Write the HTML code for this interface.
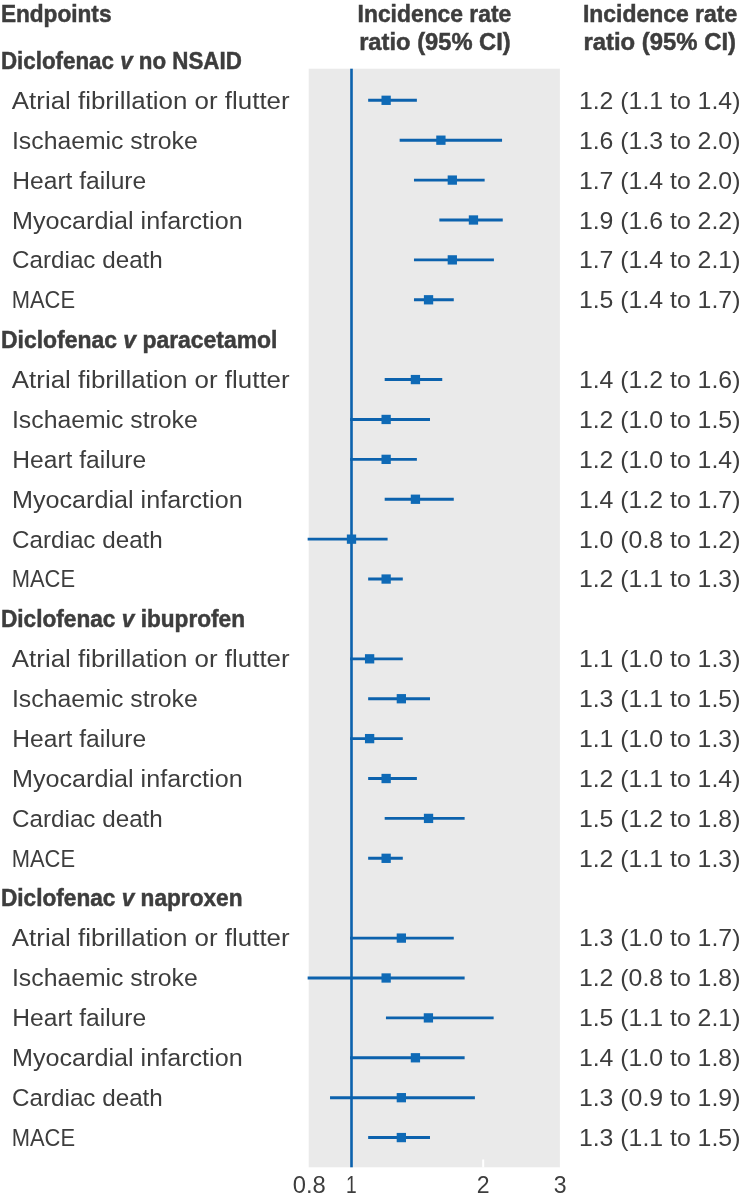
<!DOCTYPE html><html><head><meta charset="utf-8"><style>html,body{margin:0;padding:0;background:#fff;width:742px;height:1200px;overflow:hidden}svg{display:block;will-change:transform}text{font-family:"Liberation Sans",sans-serif;fill:#3d3d3d}</style></head><body>
<svg width="742" height="1200" viewBox="0 0 742 1200">
<rect x="308.7" y="68.7" width="251.2" height="1098.6" fill="#eaeaea"/>
<rect x="482.2" y="1159.5" width="2" height="8" fill="#fff"/>
<rect x="350.2" y="68.7" width="2.6" height="1098.6" fill="#0c62ad"/>
<line x1="369.61" y1="100.30" x2="415.43" y2="100.30" stroke="#0c62ad" stroke-width="2.9" stroke-linecap="square"/>
<rect x="381.49" y="95.65" width="9.3" height="9.3" fill="#0f6ab6"/>
<line x1="401.10" y1="140.19" x2="500.60" y2="140.19" stroke="#0c62ad" stroke-width="2.9" stroke-linecap="square"/>
<rect x="436.25" y="135.54" width="9.3" height="9.3" fill="#0f6ab6"/>
<line x1="415.43" y1="180.09" x2="483.20" y2="180.09" stroke="#0c62ad" stroke-width="2.9" stroke-linecap="square"/>
<rect x="447.67" y="175.44" width="9.3" height="9.3" fill="#0f6ab6"/>
<line x1="440.80" y1="219.99" x2="501.31" y2="219.99" stroke="#0c62ad" stroke-width="2.9" stroke-linecap="square"/>
<rect x="468.80" y="215.34" width="9.3" height="9.3" fill="#0f6ab6"/>
<line x1="415.43" y1="259.88" x2="492.47" y2="259.88" stroke="#0c62ad" stroke-width="2.9" stroke-linecap="square"/>
<rect x="447.67" y="255.23" width="9.3" height="9.3" fill="#0f6ab6"/>
<line x1="415.43" y1="299.78" x2="452.32" y2="299.78" stroke="#0c62ad" stroke-width="2.9" stroke-linecap="square"/>
<rect x="423.89" y="295.13" width="9.3" height="9.3" fill="#0f6ab6"/>
<line x1="386.14" y1="379.57" x2="440.80" y2="379.57" stroke="#0c62ad" stroke-width="2.9" stroke-linecap="square"/>
<rect x="410.78" y="374.92" width="9.3" height="9.3" fill="#0f6ab6"/>
<line x1="351.50" y1="419.46" x2="428.54" y2="419.46" stroke="#0c62ad" stroke-width="2.9" stroke-linecap="square"/>
<rect x="381.49" y="414.81" width="9.3" height="9.3" fill="#0f6ab6"/>
<line x1="351.50" y1="459.36" x2="415.43" y2="459.36" stroke="#0c62ad" stroke-width="2.9" stroke-linecap="square"/>
<rect x="381.49" y="454.71" width="9.3" height="9.3" fill="#0f6ab6"/>
<line x1="386.14" y1="499.25" x2="452.32" y2="499.25" stroke="#0c62ad" stroke-width="2.9" stroke-linecap="square"/>
<rect x="410.78" y="494.60" width="9.3" height="9.3" fill="#0f6ab6"/>
<line x1="309.10" y1="539.14" x2="386.14" y2="539.14" stroke="#0c62ad" stroke-width="2.9" stroke-linecap="square"/>
<rect x="346.85" y="534.50" width="9.3" height="9.3" fill="#0f6ab6"/>
<line x1="369.61" y1="579.04" x2="401.35" y2="579.04" stroke="#0c62ad" stroke-width="2.9" stroke-linecap="square"/>
<rect x="381.49" y="574.39" width="9.3" height="9.3" fill="#0f6ab6"/>
<line x1="351.50" y1="658.83" x2="401.35" y2="658.83" stroke="#0c62ad" stroke-width="2.9" stroke-linecap="square"/>
<rect x="364.96" y="654.18" width="9.3" height="9.3" fill="#0f6ab6"/>
<line x1="369.61" y1="698.73" x2="428.54" y2="698.73" stroke="#0c62ad" stroke-width="2.9" stroke-linecap="square"/>
<rect x="396.70" y="694.08" width="9.3" height="9.3" fill="#0f6ab6"/>
<line x1="351.50" y1="738.62" x2="401.35" y2="738.62" stroke="#0c62ad" stroke-width="2.9" stroke-linecap="square"/>
<rect x="364.96" y="733.97" width="9.3" height="9.3" fill="#0f6ab6"/>
<line x1="369.61" y1="778.51" x2="415.43" y2="778.51" stroke="#0c62ad" stroke-width="2.9" stroke-linecap="square"/>
<rect x="381.49" y="773.87" width="9.3" height="9.3" fill="#0f6ab6"/>
<line x1="386.14" y1="818.41" x2="463.18" y2="818.41" stroke="#0c62ad" stroke-width="2.9" stroke-linecap="square"/>
<rect x="423.89" y="813.76" width="9.3" height="9.3" fill="#0f6ab6"/>
<line x1="369.61" y1="858.31" x2="401.35" y2="858.31" stroke="#0c62ad" stroke-width="2.9" stroke-linecap="square"/>
<rect x="381.49" y="853.66" width="9.3" height="9.3" fill="#0f6ab6"/>
<line x1="351.50" y1="938.10" x2="452.32" y2="938.10" stroke="#0c62ad" stroke-width="2.9" stroke-linecap="square"/>
<rect x="396.70" y="933.45" width="9.3" height="9.3" fill="#0f6ab6"/>
<line x1="309.10" y1="977.99" x2="463.18" y2="977.99" stroke="#0c62ad" stroke-width="2.9" stroke-linecap="square"/>
<rect x="381.49" y="973.34" width="9.3" height="9.3" fill="#0f6ab6"/>
<line x1="387.40" y1="1017.88" x2="492.20" y2="1017.88" stroke="#0c62ad" stroke-width="2.9" stroke-linecap="square"/>
<rect x="423.75" y="1013.24" width="9.3" height="9.3" fill="#0f6ab6"/>
<line x1="351.50" y1="1057.78" x2="463.18" y2="1057.78" stroke="#0c62ad" stroke-width="2.9" stroke-linecap="square"/>
<rect x="410.78" y="1053.13" width="9.3" height="9.3" fill="#0f6ab6"/>
<line x1="331.48" y1="1097.68" x2="473.45" y2="1097.68" stroke="#0c62ad" stroke-width="2.9" stroke-linecap="square"/>
<rect x="396.70" y="1093.03" width="9.3" height="9.3" fill="#0f6ab6"/>
<line x1="369.61" y1="1137.57" x2="428.54" y2="1137.57" stroke="#0c62ad" stroke-width="2.9" stroke-linecap="square"/>
<rect x="396.70" y="1132.92" width="9.3" height="9.3" fill="#0f6ab6"/>
<text transform="translate(0.88 21.60) scale(0.9237 1)" font-size="24.5" font-weight="bold" stroke="#3d3d3d" stroke-width="0.5">Endpoints</text>
<text transform="translate(357.57 21.60) scale(0.9335 1)" font-size="24.5" font-weight="bold" stroke="#3d3d3d" stroke-width="0.5">Incidence rate</text>
<text transform="translate(359.13 50.10) scale(0.9690 1)" font-size="24.5" font-weight="bold" stroke="#3d3d3d" stroke-width="0.5">ratio (95% CI)</text>
<text transform="translate(582.96 21.60) scale(0.9366 1)" font-size="24.5" font-weight="bold" stroke="#3d3d3d" stroke-width="0.5">Incidence rate</text>
<text transform="translate(583.43 50.10) scale(0.9748 1)" font-size="24.5" font-weight="bold" stroke="#3d3d3d" stroke-width="0.5">ratio (95% CI)</text>
<text transform="translate(0.99 69.13) scale(0.9122 1)" font-size="24.5" font-weight="bold" stroke="#3d3d3d" stroke-width="0.5">Diclofenac <tspan font-style="italic">v</tspan> no NSAID</text>
<text transform="translate(11.80 109.00) scale(1.0578 1)" font-size="24.5">Atrial fibrillation or flutter</text>
<text transform="translate(578.89 109.00) scale(1.0146 1)" font-size="24.5">1.2 (1.1 to 1.4)</text>
<text transform="translate(11.99 148.87) scale(1.0110 1)" font-size="24.5">Ischaemic stroke</text>
<text transform="translate(578.89 148.87) scale(1.0146 1)" font-size="24.5">1.6 (1.3 to 2.0)</text>
<text transform="translate(12.30 188.74) scale(1.0038 1)" font-size="24.5">Heart failure</text>
<text transform="translate(578.89 188.74) scale(1.0146 1)" font-size="24.5">1.7 (1.4 to 2.0)</text>
<text transform="translate(11.97 228.61) scale(1.0269 1)" font-size="24.5">Myocardial infarction</text>
<text transform="translate(578.89 228.61) scale(1.0146 1)" font-size="24.5">1.9 (1.6 to 2.2)</text>
<text transform="translate(12.01 268.48) scale(0.9887 1)" font-size="24.5">Cardiac death</text>
<text transform="translate(578.89 268.48) scale(1.0146 1)" font-size="24.5">1.7 (1.4 to 2.1)</text>
<text transform="translate(11.70 308.35) scale(0.8957 1)" font-size="24.5">MACE</text>
<text transform="translate(578.89 308.35) scale(1.0146 1)" font-size="24.5">1.5 (1.4 to 1.7)</text>
<text transform="translate(0.96 348.22) scale(0.9361 1)" font-size="24.5" font-weight="bold" stroke="#3d3d3d" stroke-width="0.5">Diclofenac <tspan font-style="italic">v</tspan> paracetamol</text>
<text transform="translate(11.80 388.09) scale(1.0578 1)" font-size="24.5">Atrial fibrillation or flutter</text>
<text transform="translate(578.89 388.09) scale(1.0146 1)" font-size="24.5">1.4 (1.2 to 1.6)</text>
<text transform="translate(11.99 427.96) scale(1.0110 1)" font-size="24.5">Ischaemic stroke</text>
<text transform="translate(578.89 427.96) scale(1.0146 1)" font-size="24.5">1.2 (1.0 to 1.5)</text>
<text transform="translate(12.30 467.83) scale(1.0038 1)" font-size="24.5">Heart failure</text>
<text transform="translate(578.89 467.83) scale(1.0146 1)" font-size="24.5">1.2 (1.0 to 1.4)</text>
<text transform="translate(11.97 507.70) scale(1.0269 1)" font-size="24.5">Myocardial infarction</text>
<text transform="translate(578.89 507.70) scale(1.0146 1)" font-size="24.5">1.4 (1.2 to 1.7)</text>
<text transform="translate(12.01 547.57) scale(0.9887 1)" font-size="24.5">Cardiac death</text>
<text transform="translate(578.89 547.57) scale(1.0146 1)" font-size="24.5">1.0 (0.8 to 1.2)</text>
<text transform="translate(11.70 587.44) scale(0.8957 1)" font-size="24.5">MACE</text>
<text transform="translate(578.89 587.44) scale(1.0146 1)" font-size="24.5">1.2 (1.1 to 1.3)</text>
<text transform="translate(0.98 627.31) scale(0.9247 1)" font-size="24.5" font-weight="bold" stroke="#3d3d3d" stroke-width="0.5">Diclofenac <tspan font-style="italic">v</tspan> ibuprofen</text>
<text transform="translate(11.80 667.18) scale(1.0578 1)" font-size="24.5">Atrial fibrillation or flutter</text>
<text transform="translate(578.89 667.18) scale(1.0146 1)" font-size="24.5">1.1 (1.0 to 1.3)</text>
<text transform="translate(11.99 707.05) scale(1.0110 1)" font-size="24.5">Ischaemic stroke</text>
<text transform="translate(578.89 707.05) scale(1.0146 1)" font-size="24.5">1.3 (1.1 to 1.5)</text>
<text transform="translate(12.30 746.92) scale(1.0038 1)" font-size="24.5">Heart failure</text>
<text transform="translate(578.89 746.92) scale(1.0146 1)" font-size="24.5">1.1 (1.0 to 1.3)</text>
<text transform="translate(11.97 786.79) scale(1.0269 1)" font-size="24.5">Myocardial infarction</text>
<text transform="translate(578.89 786.79) scale(1.0146 1)" font-size="24.5">1.2 (1.1 to 1.4)</text>
<text transform="translate(12.01 826.66) scale(0.9887 1)" font-size="24.5">Cardiac death</text>
<text transform="translate(578.89 826.66) scale(1.0146 1)" font-size="24.5">1.5 (1.2 to 1.8)</text>
<text transform="translate(11.70 866.53) scale(0.8957 1)" font-size="24.5">MACE</text>
<text transform="translate(578.89 866.53) scale(1.0146 1)" font-size="24.5">1.2 (1.1 to 1.3)</text>
<text transform="translate(0.98 906.40) scale(0.9242 1)" font-size="24.5" font-weight="bold" stroke="#3d3d3d" stroke-width="0.5">Diclofenac <tspan font-style="italic">v</tspan> naproxen</text>
<text transform="translate(11.80 946.27) scale(1.0578 1)" font-size="24.5">Atrial fibrillation or flutter</text>
<text transform="translate(578.89 946.27) scale(1.0146 1)" font-size="24.5">1.3 (1.0 to 1.7)</text>
<text transform="translate(11.99 986.14) scale(1.0110 1)" font-size="24.5">Ischaemic stroke</text>
<text transform="translate(578.89 986.14) scale(1.0146 1)" font-size="24.5">1.2 (0.8 to 1.8)</text>
<text transform="translate(12.30 1026.01) scale(1.0038 1)" font-size="24.5">Heart failure</text>
<text transform="translate(578.89 1026.01) scale(1.0146 1)" font-size="24.5">1.5 (1.1 to 2.1)</text>
<text transform="translate(11.97 1065.88) scale(1.0269 1)" font-size="24.5">Myocardial infarction</text>
<text transform="translate(578.89 1065.88) scale(1.0146 1)" font-size="24.5">1.4 (1.0 to 1.8)</text>
<text transform="translate(12.01 1105.75) scale(0.9887 1)" font-size="24.5">Cardiac death</text>
<text transform="translate(578.89 1105.75) scale(1.0146 1)" font-size="24.5">1.3 (0.9 to 1.9)</text>
<text transform="translate(11.70 1145.62) scale(0.8957 1)" font-size="24.5">MACE</text>
<text transform="translate(578.89 1145.62) scale(1.0146 1)" font-size="24.5">1.3 (1.1 to 1.5)</text>
<text transform="translate(292.80 1193.00) scale(0.9706 1)" font-size="24.5">0.8</text>
<text transform="translate(345.92 1193.00) scale(0.7833 1)" font-size="24.5">1</text>
<text transform="translate(476.86 1193.00) scale(0.9417 1)" font-size="24.5">2</text>
<text transform="translate(553.76 1193.00) scale(0.9417 1)" font-size="24.5">3</text>
</svg></body></html>
